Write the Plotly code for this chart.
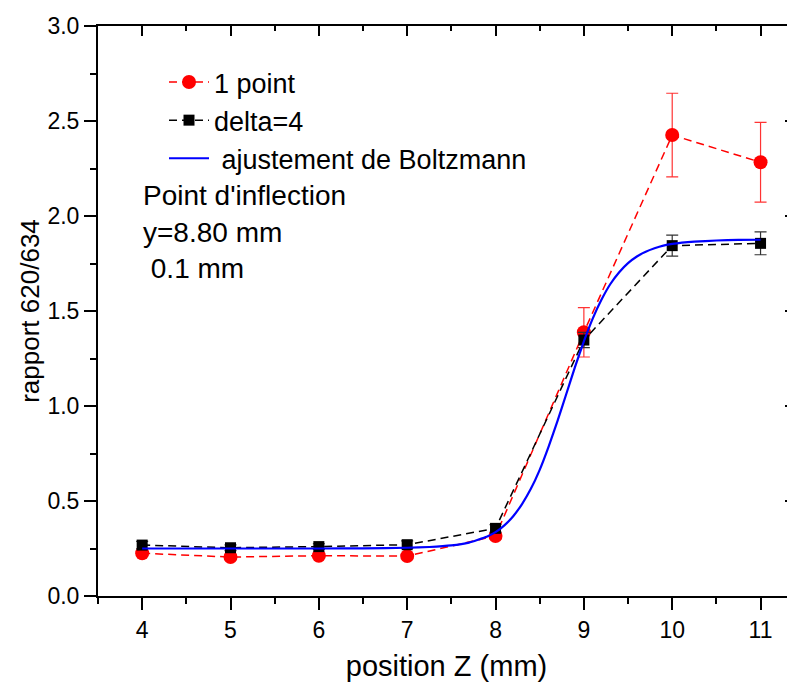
import plotly.graph_objects as go

# ---- data ----
z_pos = [4, 5, 6, 7, 8, 9, 10, 11]
one_point = [0.225, 0.205, 0.212, 0.21, 0.316, 1.388, 2.426, 2.283]
one_point_err = [0.01, 0.01, 0.01, 0.01, 0.015, 0.13, 0.22, 0.21]
delta4 = [0.268, 0.254, 0.26, 0.27, 0.356, 1.347, 1.844, 1.856]
delta4_err = [0.02, 0.015, 0.015, 0.02, 0.02, 0.04, 0.055, 0.06]

# Boltzmann fit curve
fit_z = [4, 4.5, 5, 5.5, 6, 6.5, 7, 7.25, 7.5, 7.7, 7.9, 8.0, 8.1, 8.2, 8.3, 8.4,
         8.5, 8.6, 8.7, 8.8, 8.9, 9.0, 9.1, 9.2, 9.3, 9.4, 9.5, 9.6, 9.7, 9.8, 9.9,
         10.0, 10.25, 10.5, 10.75, 11]
fit_val = [0.25, 0.25, 0.25, 0.25, 0.25, 0.251, 0.254, 0.258, 0.266, 0.281, 0.312,
           0.336, 0.372, 0.42, 0.484, 0.564, 0.664, 0.785, 0.919, 1.062, 1.206, 1.34,
           1.46, 1.56, 1.642, 1.704, 1.752, 1.787, 1.812, 1.83, 1.844, 1.853, 1.865,
           1.871, 1.874, 1.875]

x_ticks = [4, 5, 6, 7, 8, 9, 10, 11]
y_ticks = [0.0, 0.5, 1.0, 1.5, 2.0, 2.5, 3.0]
y_tick_text = ["0.0", "0.5", "1.0", "1.5", "2.0", "2.5", "3.0"]

names = ["1 point", "delta=4", "\u00a0ajustement de Boltzmann"]
notes = ["Point d'inflection", "y=8.80 mm", "\u00a00.1 mm"]

FONT = "Liberation Sans, Arial, sans-serif"
X_RANGE = [3.5, 11.39]
Y_RANGE = [0, 3]

# the page body adds an 8px offset, so the figure is 8px smaller and
# all pixel positions below are page positions minus 8
OFF = 8
W, H = 795 - OFF, 684 - OFF
L, R, T, B = 98 - OFF, 795 - OFF, 26 - OFF, 596 - OFF
PW, PH = R - L, B - T

fig = go.Figure()

fig.add_trace(go.Scatter(
    x=z_pos, y=one_point, name=names[0], mode="lines+markers",
    line=dict(color="#ff0000", width=1.5, dash="8px,5px"),
    marker=dict(symbol="circle", size=14, color="#ff0000"),
    error_y=dict(type="data", array=one_point_err, color="#ff3333", thickness=1.2, width=6),
))
fig.add_trace(go.Scatter(
    x=z_pos, y=delta4, name=names[1], mode="lines+markers",
    line=dict(color="#000000", width=1.5, dash="8px,5px"),
    marker=dict(symbol="square", size=11, color="#000000"),
    error_y=dict(type="data", array=delta4_err, color="#333333", thickness=1.2, width=6),
))
fig.add_trace(go.Scatter(
    x=fit_z, y=fit_val, name=names[2], mode="lines",
    line=dict(color="#0000ff", width=2.2, shape="spline", smoothing=0.3),
))
# empty trace so the top/right frame axes get drawn
fig.add_trace(go.Scatter(x=[], y=[], xaxis="x2", yaxis="y2", showlegend=False,
                         hoverinfo="skip"))

axis_common = dict(showgrid=False, zeroline=False, showline=True, linecolor="black",
                   linewidth=2, tickcolor="black", tickwidth=2, automargin=False)

fig.update_layout(
    width=W, height=H,
    margin=dict(l=L, r=W - R, t=T, b=H - B),
    paper_bgcolor="white", plot_bgcolor="white",
    font=dict(family=FONT, color="black"),
    showlegend=True,
    legend=dict(x=(164 - OFF - L) / PW, y=(B - (58 - OFF)) / PH, xanchor="left",
                yanchor="top", font=dict(size=27, family=FONT),
                bgcolor="rgba(0,0,0,0)", itemwidth=40, traceorder="normal"),
    xaxis=dict(range=X_RANGE, tickvals=x_ticks, ticks="outside", ticklen=12,
               tickfont=dict(size=23),
               minor=dict(dtick=0.5, tick0=4, ticks="outside", ticklen=6, tickwidth=2,
                          tickcolor="black"),
               title=dict(text="position Z (mm)", font=dict(size=29), standoff=14),
               **axis_common),
    yaxis=dict(range=Y_RANGE, tickvals=y_ticks, ticktext=y_tick_text, ticks="outside",
               ticklen=12, tickfont=dict(size=23),
               minor=dict(dtick=0.25, tick0=0, ticks="outside", ticklen=6, tickwidth=2,
                          tickcolor="black"),
               title=dict(text="rapport 620/634", font=dict(size=26), standoff=0),
               **axis_common),
    xaxis2=dict(range=X_RANGE, overlaying="x", side="top", anchor="y", tickvals=x_ticks,
                ticks="inside", ticklen=10, showticklabels=False,
                minor=dict(dtick=0.5, tick0=4, ticks="inside", ticklen=5, tickwidth=2,
                           tickcolor="black"),
                **axis_common),
    yaxis2=dict(range=Y_RANGE, overlaying="y", side="right", anchor="x", tickvals=y_ticks,
                ticks="inside", ticklen=10, showticklabels=False,
                minor=dict(dtick=0.25, tick0=0, ticks="inside", ticklen=5, tickwidth=2,
                           tickcolor="black"),
                **axis_common),
)

note_y = [195, 232, 268]
note_x = [141, 141, 141]
for txt, px, py in zip(notes, note_x, note_y):
    fig.add_annotation(text=txt, xref="paper", yref="paper",
                       x=(px - OFF - L) / PW, y=(B - (py - OFF)) / PH,
                       xanchor="left", yanchor="middle", showarrow=False,
                       font=dict(size=28, family=FONT, color="black"))

fig.write_html("out.html")
